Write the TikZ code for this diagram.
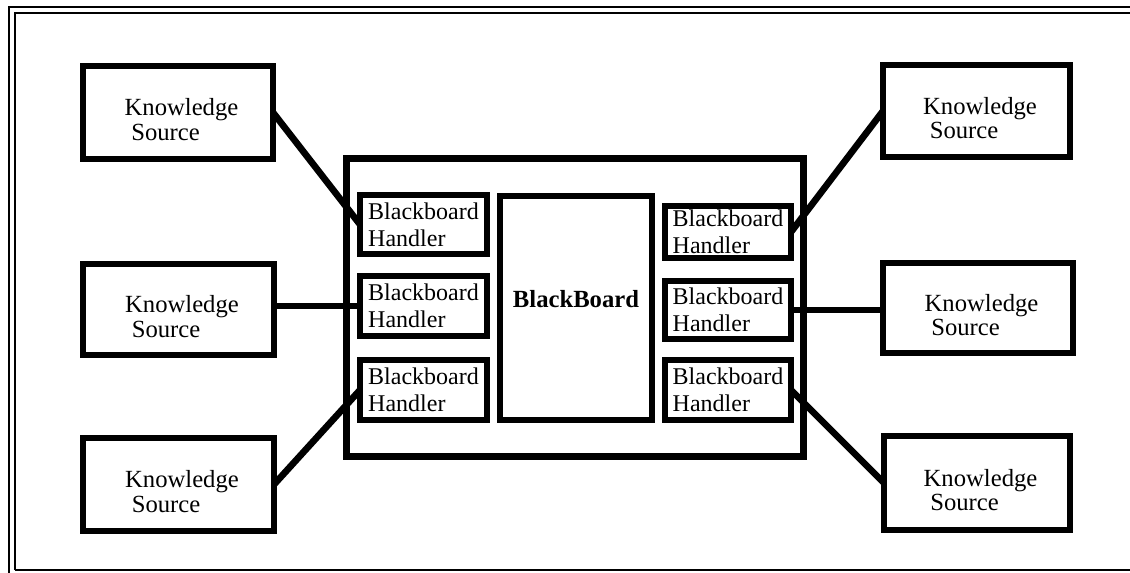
\documentclass[tikz,border=0pt]{standalone}
\usepackage{fontspec}
\setmainfont{Liberation Serif}
\usetikzlibrary{calc}
\begin{document}
\begin{tikzpicture}[x=0.75pt,y=-0.75pt,
  thickbox/.style={draw, line width=4.5pt, inner sep=0pt, outer sep=0pt},
  handler/.style={thickbox, align=left, font=\fontsize{18}{20.25}\selectfont},
  kstext/.style={align=left, inner sep=0pt, font=\fontsize{18.5}{18.5}\selectfont},
  conn/.style={line width=5pt},
  frameline/.style={line width=1.6pt}]
\useasboundingbox (0,0) rectangle (1130,573);
% frame
\draw[frameline] (9,573) -- (9,7) -- (1130,7);
\draw[frameline] (15,570) -- (15,13) -- (1130,13);
\draw[frameline] (15,570) -- (1130,570);
% central block
\node[thickbox, line width=5.25pt, minimum width=342.75pt, minimum height=223.5pt] (big) at (575,307.5) {};
\node[thickbox, minimum width=114pt, minimum height=168pt] (bb) at (576,308) {};
\node[inner sep=0pt, font=\fontsize{18.5}{20}\selectfont\bfseries] (bbt) at ($(bb.center)+(0,-9)$) {BlackBoard};
% handlers
\node[handler, minimum width=95.25pt, minimum height=44.25pt] (hl1) at (423.5,224.5) {Blackboard\\Handler};
\node[handler, minimum width=95.25pt, minimum height=45pt] (hl2) at (423.5,306) {Blackboard\\Handler};
\node[handler, minimum width=95.25pt, minimum height=45pt] (hl3) at (423.5,390) {Blackboard\\Handler};
\node[handler, minimum width=94.5pt, minimum height=39pt] (hr1) at (728,232) {Blackboard\\Handler};
\node[handler, minimum width=94.5pt, minimum height=43.5pt] (hr2) at (728,310) {Blackboard\\Handler};
\node[handler, minimum width=94.5pt, minimum height=45pt] (hr3) at (728,390) {Blackboard\\Handler};
% knowledge sources
\node[thickbox, minimum width=142.5pt, minimum height=69.75pt] (ks1) at (178,112.5) {};
\node[thickbox, minimum width=143.25pt, minimum height=68.25pt] (ks2) at (178.5,309.5) {};
\node[thickbox, minimum width=143.25pt, minimum height=69.75pt] (ks3) at (178.5,484.5) {};
\node[thickbox, minimum width=140.25pt, minimum height=69pt] (ks4) at (976.5,111) {};
\node[thickbox, minimum width=142.5pt, minimum height=67.5pt] (ks5) at (978,308) {};
\node[thickbox, minimum width=139.5pt, minimum height=70.5pt] (ks6) at (977,483) {};
\foreach \k in {ks1,ks2,ks3,ks4,ks5,ks6}{
  \node[kstext] (\k t) at ($(\k.center)+(3.5,7)$) {Knowledge\\\hspace*{5pt}Source};
}
% connectors
\draw[conn] (ks1.east) -- (hl1.west);
\draw[conn] (ks2.east |- hl2.west) -- (hl2.west);
\draw[conn] (ks3.east) -- (hl3.west);
\draw[conn] (hr1.east) -- (ks4.west);
\draw[conn] (hr2.east) -- (hr2.east -| ks5.west);
\draw[conn] (hr3.east) -- (ks6.west);
\end{tikzpicture}
\end{document}
